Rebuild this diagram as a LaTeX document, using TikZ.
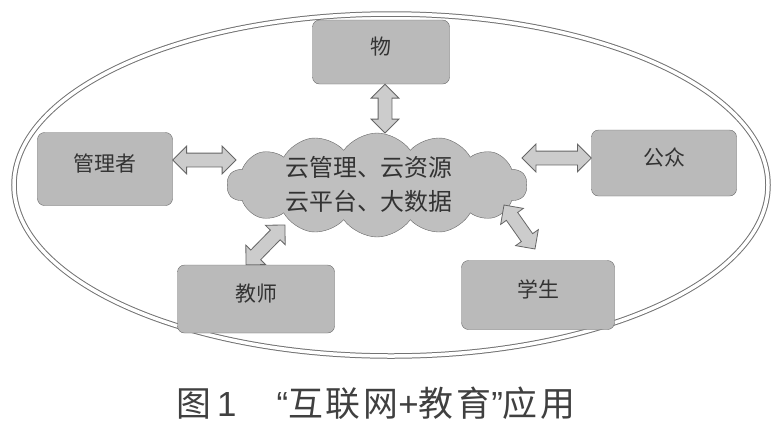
\documentclass[tikz,border=0pt]{standalone}
\usepackage{fontspec}
\setmainfont{Noto Sans CJK SC}
\newfontfamily\latinfont{Liberation Sans}
\usetikzlibrary{shapes.symbols,shapes.arrows,calc,positioning}
\tikzset{
% role boxes round the cloud
rolebox/.style={rectangle, rounded corners=7bp, draw=black!60, fill=black!27,
  text=black!80, font=\fontsize{21}{24}\selectfont, inner sep=0,
  text height=15bp, text depth=10bp},
% thick two-headed arrows
bothway/.style={double arrow, draw=black!60, fill=black!20, line width=0.8bp,
  double arrow head extend=7bp, inner xsep=0, inner ysep=6.5bp}
}
\newcommand\biarrow[3]{%
  \path let \p1=(#2), \p2=(#3), \n1={atan2(\y2-\y1,\x2-\x1)},
    \n2={veclen(\x2-\x1,\y2-\y1)} in
    node[bothway, rotate=\n1, minimum height=\n2] (#1) at ($(#2)!0.5!(#3)$) {};}

\begin{document}
\begin{tikzpicture}[x=1bp, y=-1bp]
  \useasboundingbox (0,0) rectangle (782,428);

  \draw[draw=black!55, line width=1bp, double=white, double distance=3.5bp]
    (391,185) ellipse [x radius=377, y radius=171];

  \node[cloud, cloud puffs=14, cloud puff arc=110, aspect=2.9,
    draw=black!60, fill=black!25,
    minimum width=300bp,
    minimum height=104bp, inner sep=0] (cloud) at (377,185) {};
  \node[align=center, text=black!80,
    font=\fontsize{24}{34}\selectfont] (cloud-text) at (369,184)
    {云管理、云资源\\云平台、大数据};

  \node[rolebox, minimum width=137bp, minimum height=64bp] (wu) at (381,52) {物};
  \node[rolebox, minimum width=135bp, minimum height=73bp] (guanli) at (105,169) {管理者};
  \node[rolebox, minimum width=145bp, minimum height=66bp] (gongzhong) at (664,163) {公众};
  \node[rolebox, minimum width=157bp, minimum height=68bp] (jiaoshi) at (256,299) {教师};
  \node[rolebox, minimum width=153bp, minimum height=69bp] (xuesheng) at (538,295) {学生};

  \coordinate (cn) at (385,133);
  \coordinate (cw) at (236,160);
  \coordinate (ce) at (522,158);
  \coordinate (csw) at (285,225);
  \coordinate (cse) at (504,205);
  \coordinate (xs-top) at (535,249);

  \biarrow{a1}{[xshift=4bp]wu.south}{cn}
  \biarrow{a2}{[yshift=9bp]guanli.east}{cw}
  \biarrow{a3}{ce}{[yshift=5bp]gongzhong.west}
  \biarrow{a4}{[xshift=-10bp]jiaoshi.north}{csw}
  \biarrow{a5}{cse}{xs-top}

  \node[text=black!75, font=\fontsize{35}{36}\selectfont\addfontfeature{LetterSpace=8}]
    (caption) at (376,403)
    {图\,{\latinfont 1}\hspace{40bp}{\latinfont “}互联网{\latinfont +}教育{\latinfont ”}应用};
\end{tikzpicture}
\end{document}
